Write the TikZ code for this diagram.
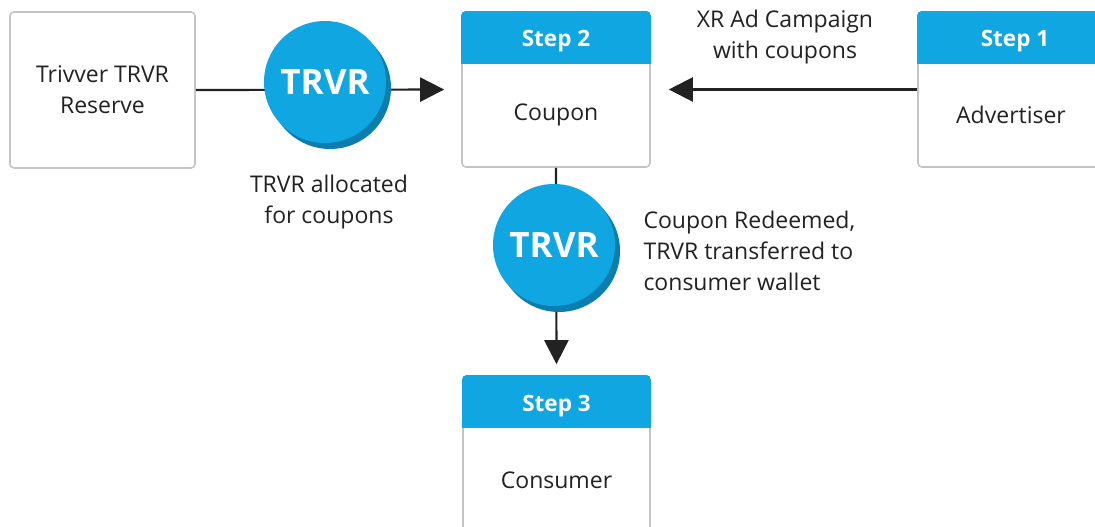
\documentclass[tikz,border=0pt]{standalone}
\usepackage{fontspec}
\setmainfont{Open Sans}
\usetikzlibrary{arrows.meta}
\definecolor{coinblue}{HTML}{10A6E2}
\definecolor{coinshadow}{HTML}{0B7DAE}
\definecolor{boxgray}{HTML}{C4C4C4}
\definecolor{ink}{HTML}{222222}
\begin{document}
\begin{tikzpicture}[x=1pt,y=-1pt,
  txt/.style={font=\fontsize{23}{31}\selectfont, text=ink, align=center},
  box/.style={draw=boxgray, line width=1.6pt, rounded corners=4pt, fill=white, inner sep=0pt},
  head/.style={font=\fontsize{22.5}{24}\selectfont\bfseries, text=white},
  conn/.style={draw=ink, line width=2.2pt, -{Triangle[length=24pt,width=24pt]}},
  coin/.style={circle, fill=coinblue, minimum size=122pt, inner sep=0pt, text=white,
    font=\fontsize{35}{35}\selectfont\bfseries,
    preaction={fill=coinshadow, transform canvas={shift={(5pt,-6pt)}}}}]
\useasboundingbox (0,0) rectangle (1095,527);
\fill[white] (0,0) rectangle (1095,527);

% boxes
\node[box, minimum width=185pt, minimum height=156pt] (reserve) at (102.5,90) {};
\node[txt] (reservet) at (reserve.center) {Trivver TRVR\\Reserve};

\node[box, minimum width=188pt, minimum height=155pt] (step2) at (556,89.5) {};
\node[box, minimum width=194pt, minimum height=155pt] (step1) at (1015,89.5) {};
\node[box, minimum width=187pt, minimum height=190pt] (step3) at (556.5,471) {};

% headers
\begin{scope}
  \clip[rounded corners=4pt] (461.2,11.2) rectangle (650.8,170);
  \fill[coinblue] (461,11) rectangle (651,64);
\end{scope}
\begin{scope}
  \clip[rounded corners=4pt] (917.2,11.2) rectangle (1112.8,170);
  \fill[coinblue] (917,11) rectangle (1113,64);
\end{scope}
\begin{scope}
  \clip[rounded corners=4pt] (462.2,375.2) rectangle (650.8,570);
  \fill[coinblue] (462,375) rectangle (651,428);
\end{scope}
\node[head] (h2) at (556,41) {Step 2};
\node[head] (h1) at (1015,41) {Step 1};
\node[head] (h3) at (556.5,406) {Step 3};

\node[txt] (coupon) at (556,115) {Coupon};
\node[txt] (adv) at (1011,115) {Advertiser};
\node[txt] (cons) at (556.5,480) {Consumer};

% connectors
\draw[conn, shorten >=17pt] (reserve.east) -- (step2.west);
\draw[conn, shorten >=18pt] (step1.west) -- (step2.east);
\draw[conn, shorten >=11pt] (step2.south) -- (step3.north);

% coins
\node[coin] (coin1) at (325,82) {TRVR};
\node[coin] (coin2) at (554,245) {TRVR};

% labels
\node[txt] (lab1) at (329,202) {TRVR allocated\\for coupons};
\node[txt] (lab2) at (785,37) {XR Ad Campaign\\with coupons};
\node[txt, align=left, anchor=west] (lab3) at (640,251) {Coupon Redeemed,\\TRVR transferred to\\consumer wallet};
\end{tikzpicture}
\end{document}
